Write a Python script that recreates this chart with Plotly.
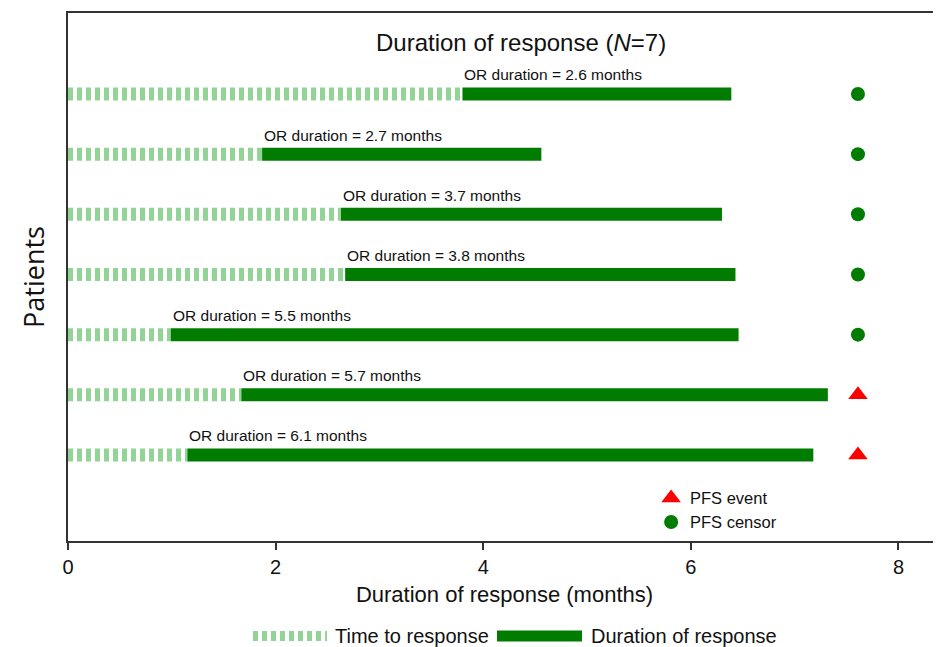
import plotly.graph_objects as go

# ---- data ----
patients = [7, 6, 5, 4, 3, 2, 1]                     # row position, top to bottom
response_start = [3.80, 1.87, 2.63, 2.67, 0.99, 1.67, 1.15]   # time to response (months)
response_end = [6.39, 4.56, 6.30, 6.43, 6.46, 7.32, 7.18]     # end of response (months)
or_duration_labels = ["2.6", "2.7", "3.7", "3.8", "5.5", "5.7", "6.1"]
pfs_status = ["censor", "censor", "censor", "censor", "censor", "event", "event"]
pfs_time = [7.61] * 7

LIGHT = "#92d396"
DARK = "#007d00"
RED = "#ff0000"
FONT = "Liberation Sans, Arial, Helvetica, sans-serif"

fig = go.Figure()

for y, s, e in zip(patients, response_start, response_end):
    fig.add_trace(go.Scatter(x=[0, s], y=[y, y], mode="lines",
                             line=dict(color=LIGHT, width=13, dash="5px,4px"),
                             showlegend=False, hoverinfo="skip"))
    fig.add_trace(go.Scatter(x=[s, e], y=[y, y], mode="lines",
                             line=dict(color=DARK, width=13),
                             showlegend=False, hoverinfo="skip"))

ev_x = [t for t, st in zip(pfs_time, pfs_status) if st == "event"]
ev_y = [p for p, st in zip(patients, pfs_status) if st == "event"]
ce_x = [t for t, st in zip(pfs_time, pfs_status) if st == "censor"]
ce_y = [p for p, st in zip(patients, pfs_status) if st == "censor"]
fig.add_trace(go.Scatter(x=ev_x, y=ev_y, mode="markers",
                         marker=dict(symbol="triangle-up", size=17, color=RED),
                         showlegend=False, hoverinfo="skip"))
fig.add_trace(go.Scatter(x=ce_x, y=ce_y, mode="markers",
                         marker=dict(symbol="circle", size=14, color=DARK),
                         showlegend=False, hoverinfo="skip"))

# inner legend markers
leg_x = 5.81
fig.add_trace(go.Scatter(x=[leg_x], y=[0.285], mode="markers",
                         marker=dict(symbol="triangle-up", size=17, color=RED),
                         showlegend=False, hoverinfo="skip"))
fig.add_trace(go.Scatter(x=[leg_x], y=[-0.113], mode="markers",
                         marker=dict(symbol="circle", size=14, color=DARK),
                         showlegend=False, hoverinfo="skip"))

annotations = []
for y, s, lab in zip(patients, response_start, or_duration_labels):
    annotations.append(dict(x=s, y=y, xref="x", yref="y", yshift=19,
                            text=f"OR duration = {lab} months", showarrow=False,
                            xanchor="left", yanchor="middle",
                            font=dict(size=15.5, color="#111", family=FONT)))

annotations.append(dict(x=4.36, y=7.864, xref="x", yref="y",
                        text="Duration of response (<i>N</i>=7)", showarrow=False,
                        xanchor="center", yanchor="middle",
                        font=dict(size=24, color="#111", family=FONT)))
annotations.append(dict(x=leg_x, y=0.285, xref="x", yref="y", xshift=17,
                        text="PFS event", showarrow=False, xanchor="left", yanchor="middle",
                        font=dict(size=16.5, color="#111", family=FONT)))
annotations.append(dict(x=leg_x, y=-0.113, xref="x", yref="y", xshift=17,
                        text="PFS censor", showarrow=False, xanchor="left", yanchor="middle",
                        font=dict(size=16.5, color="#111", family=FONT)))

# bottom legend
leg_y = -0.18
annotations.append(dict(x=0.2967, y=leg_y, xref="paper", yref="paper", xshift=6,
                        text="Time to response", showarrow=False, xanchor="left", yanchor="middle",
                        font=dict(size=20, color="#111", family=FONT)))
annotations.append(dict(x=0.5888, y=leg_y, xref="paper", yref="paper", xshift=7,
                        text="Duration of response", showarrow=False, xanchor="left", yanchor="middle",
                        font=dict(size=20, color="#111", family=FONT)))

shapes = [
    dict(type="line", xref="paper", yref="paper", x0=0.2119, x1=0.2967, y0=leg_y, y1=leg_y,
         line=dict(color=LIGHT, width=10, dash="5px,4px")),
    dict(type="line", xref="paper", yref="paper", x0=0.4914, x1=0.5888, y0=leg_y, y1=leg_y,
         line=dict(color=DARK, width=11)),
]

fig.update_layout(
    width=933, height=639,
    margin=dict(l=60, r=0, t=5, b=106),
    paper_bgcolor="white", plot_bgcolor="white",
    font=dict(family=FONT, color="#111"),
    annotations=annotations, shapes=shapes,
    showlegend=False,
)
fig.update_xaxes(range=[0, 8.41], tickvals=[0, 2, 4, 6, 8], ticks="outside", ticklen=7,
                 tickwidth=1.5, tickcolor="#333", showline=True, linecolor="#333", linewidth=2,
                 mirror=True, showgrid=False, zeroline=False,
                 tickfont=dict(size=20, family=FONT),
                 title=dict(text="Duration of response (months)", font=dict(size=22, family=FONT),
                            standoff=10))
fig.update_yaxes(range=[-0.43, 8.346], showticklabels=False, ticks="", showline=True,
                 linecolor="#333", linewidth=2, showgrid=False, zeroline=False,
                 title=dict(text="Patients", font=dict(size=27, family="Open Sans, sans-serif"),
                            standoff=14))

fig.write_html("out.html")
